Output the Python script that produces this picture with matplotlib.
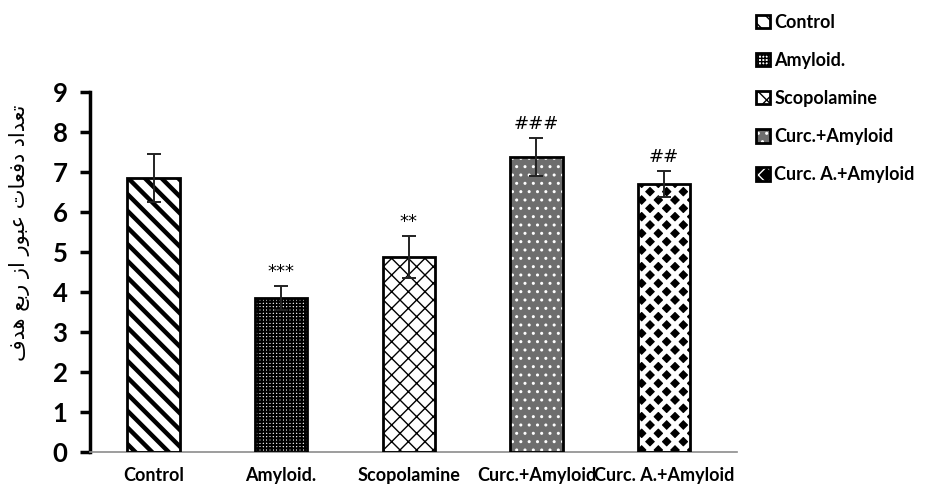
import matplotlib
matplotlib.use("Agg")
import matplotlib.pyplot as plt

# values
categories = ["Control", "Amyloid.", "Scopolamine", "Curc.+Amyloid", "Curc. A.+Amyloid"]
means = [6.85, 3.85, 4.87, 7.37, 6.70]
errors = [0.60, 0.30, 0.53, 0.48, 0.32]
marks = ["", "***", "**", "###", "##"]

# Persian y label, written in presentation forms (visual order) since matplotlib does no shaping
ylabel = ("\ufed1\ufeaa\ufeeb \ufeca\ufe91\ufead \ufeaf\ufe8d "
          "\ufead\ufeee\ufe92\ufecb \ufe95\ufe8e\ufecc\ufed3\ufea9 \ufea9\ufe8d\ufeaa\ufecc\ufe97")

# bar looks: face colour, hatch colour, hatch, hatch linewidth
styles = [
    ("white", "black", "\\\\", 3.2),
    ("white", "black", "+++++", 1.5),
    ("white", "black", "xx", 1.0),
    ("#6e6e6e", "white", "..", 1.0),
    ("black", "white", "xx", 3.4),
]

plt.rcParams["font.family"] = ["Lato", "DejaVu Sans"]

fig = plt.figure(figsize=(9.25, 4.84), dpi=100)
ax = fig.add_axes([0.097, 0.066, 0.6995, 0.744])

x = list(range(len(categories)))
width = 0.41
handles = []
for i in x:
    face, hcol, hatch, hlw = styles[i]
    with plt.rc_context({"hatch.linewidth": hlw}):
        fill = ax.bar(i, means[i], width, color=face, edgecolor=hcol, hatch=hatch, linewidth=0, zorder=2)
        for p in fill:
            if hasattr(p, "set_hatch_linewidth"):
                p.set_hatch_linewidth(hlw)
    edge = ax.bar(i, means[i], width, fill=False, edgecolor="black", linewidth=2, zorder=3)
    handles.append((fill[0], edge[0]))

ax.errorbar(x, means, yerr=errors, fmt="none", ecolor="#222222", elinewidth=1.4,
            capsize=5, capthick=1.4, zorder=4)

for i in x:
    if marks[i]:
        ax.annotate(marks[i], (i, means[i] + errors[i]), xytext=(0, 10), textcoords="offset points",
                    ha="center", va="center", fontsize=13, family="DejaVu Sans")

ax.set_xlim(-0.5, 4.57)
ax.set_ylim(0, 9)
ax.set_yticks(range(10))
ax.set_xticks(x)
ax.set_xticklabels(categories, fontsize=13, fontweight="bold")
for lab in ax.get_yticklabels():
    lab.set_fontsize(18.5)
    lab.set_fontweight("bold")

ax.spines["top"].set_visible(False)
ax.spines["right"].set_visible(False)
ax.spines["left"].set_linewidth(2.5)
ax.spines["bottom"].set_color("#8c8c8c")
ax.spines["bottom"].set_linewidth(1.2)
ax.tick_params(axis="y", direction="out", length=7, width=2.5, pad=9)
ax.tick_params(axis="x", length=0, pad=11)

fig.text(0.021, 0.52, ylabel, rotation=90, ha="center", va="center", fontsize=15, family="DejaVu Sans")

fig.legend(handles, categories, loc="upper left", bbox_to_anchor=(0.8, 1.005), frameon=False,
           handlelength=0.75, handleheight=0.75, handletextpad=0.25, labelspacing=1.17,
           prop={"size": 13, "weight": "bold"})

fig.savefig("out.png", dpi=100)
